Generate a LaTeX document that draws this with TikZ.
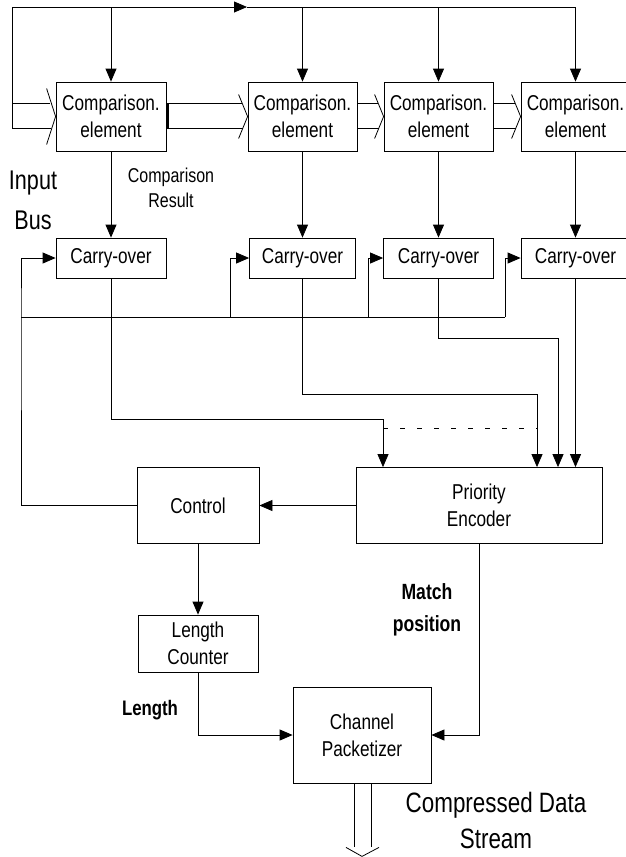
\documentclass[tikz,border=0pt]{standalone}
\usepackage{fontspec}
\setmainfont{Liberation Sans}[FakeStretch=0.8]
\usetikzlibrary{arrows.meta,calc}

% hollow bus arrow into the west side of a block
\newcommand{\hollowin}[3]{%
	\draw ($(#1)+(0,-13)$) -- ($(#2.west)+(-6,-13)$);
	\draw ($(#1)+(0,12)$) -- ($(#2.west)+(-5,12)$);
	\draw ($(#2.west)+(-9,-#3)$) -- (#2.west) -- ($(#2.west)+(-9,#3)$);}

\begin{document}
\begin{tikzpicture}[x=1pt, y=-1pt, line width=0.8pt,
	blk/.style={draw, inner sep=0pt, align=center, font=\fontsize{21.5}{27}\selectfont},
	lbl/.style={inner sep=0pt, align=center},
	arr/.style={-{Triangle[length=13pt,width=11pt]}}]
	\useasboundingbox (0,0) rectangle (626,857);

	% comparison elements and carry-over cells
	\node[blk, minimum width=110, minimum height=69] (cmp1) at (111,116.5) {Comparison.\\element};
	\node[blk, minimum width=109, minimum height=69] (cmp2) at (302.5,116.5) {Comparison.\\element};
	\node[blk, minimum width=109, minimum height=69] (cmp3) at (438.5,116.5) {Comparison.\\element};
	\node[blk, minimum width=109, minimum height=69] (cmp4) at (575.5,116.5) {Comparison.\\element};
	\node[blk, minimum width=110, minimum height=40] (co1) at (111,258) {Carry-over};
	\node[blk, minimum width=106, minimum height=40] (co2) at (302.5,258) {Carry-over};
	\node[blk, minimum width=110, minimum height=40] (co3) at (438.5,258) {Carry-over};
	\node[blk, minimum width=109, minimum height=40] (co4) at (575.5,258) {Carry-over};

	\node[blk, minimum width=122, minimum height=76] (ctrl) at (198,505.5) {Control};
	\node[blk, minimum width=246, minimum height=76] (pe) at (479,505.5) {Priority\\Encoder};
	\node[blk, minimum width=120, minimum height=57] (lc) at (198,643.5) {Length\\Counter};
	\node[blk, minimum width=138, minimum height=96] (cp) at (362,735) {Channel\\Packetizer};

	% labels
	\node[lbl, font=\fontsize{27}{40}\selectfont] (lblIn) at (33,200) {Input\\Bus};
	\node[lbl, font=\fontsize{20}{25}\selectfont] (lblRes) at (171,188) {Comparison\\Result};
	\node[lbl, font=\bfseries\fontsize{22}{32}\selectfont] (lblMatch) at (427,610) {Match\\position};
	\node[lbl, font=\bfseries\fontsize{21}{25}\selectfont] (lblLen) at (150,710) {Length};
	\node[lbl, font=\fontsize{28}{36}\selectfont] (lblOut) at (496,820) {Compressed Data\\Stream};

	% input bus along the top
	\coordinate (topL) at (12,7);
	\coordinate (topM) at (247,7);
	\coordinate (topR) at (cmp4.north |- topL);
	\coordinate (busL) at (12,116.5);
	\draw[arr] (topL) -- (topM);
	\draw (topM) -- (topR);
	\draw (topL) -- ($(busL)+(0,12)$);
	\foreach \i in {1,...,4}
		\draw[arr] (cmp\i.north |- topL) -- (cmp\i.north);
	\hollowin{busL}{cmp1}{28}
	\hollowin{cmp1.east}{cmp2}{22}
	\hollowin{cmp2.east}{cmp3}{22}
	\hollowin{cmp3.east}{cmp4}{22}
	\draw[line width=3pt] ($(cmp1.east)+(1.5,-13)$) -- ($(cmp1.east)+(1.5,12)$);

	\foreach \i in {1,...,4}
		\draw[arr] (cmp\i.south) -- (co\i.north);

	% feedback from control
	\coordinate (fbL) at (21,317);
	\coordinate (br2) at (230,317);
	\coordinate (br3) at (368,317);
	\coordinate (fbR) at (505,317);
	\draw[arr] (ctrl.west) -| (fbL) |- (co1.west);
	\draw (fbL) -- (fbR);
	\draw[arr] (br2) |- (co2.west);
	\draw[arr] (br3) |- (co3.west);
	\draw[arr] (fbR) |- (co4.west);

	% carry-over outputs to the encoder
	\coordinate (j1) at (383,419);
	\coordinate (j2) at (537,394);
	\coordinate (j3) at (558,338);
	\draw[arr] (co1.south) |- (j1) -- (j1 |- pe.north);
	\draw[arr] (co2.south) |- (j2) -- (j2 |- pe.north);
	\draw[arr] (co3.south) |- (j3) -- (j3 |- pe.north);
	\draw[arr] (co4.south) -- (co4.south |- pe.north);
	\draw[dash pattern=on 5pt off 12pt] ($(j1)+(0,9)$) -- ($(j2 |- j1)+(0,9)$);

	\draw[arr] (pe.west) -- (ctrl.east);
	\draw[arr] (ctrl.south) -- (lc.north);
	\draw[arr] (lc.south) |- (cp.west);
	\draw[arr] (pe.south) |- (cp.east);

	% output stream
	\draw ($(cp.south)+(-8,0)$) -- ($(cp.south)+(-8,64)$);
	\draw ($(cp.south)+(9,0)$) -- ($(cp.south)+(9,64)$);
	\draw ($(cp.south)+(-16,64)$) -- ($(cp.south)+(0,73)$) -- ($(cp.south)+(17,64)$);
\end{tikzpicture}
\end{document}
